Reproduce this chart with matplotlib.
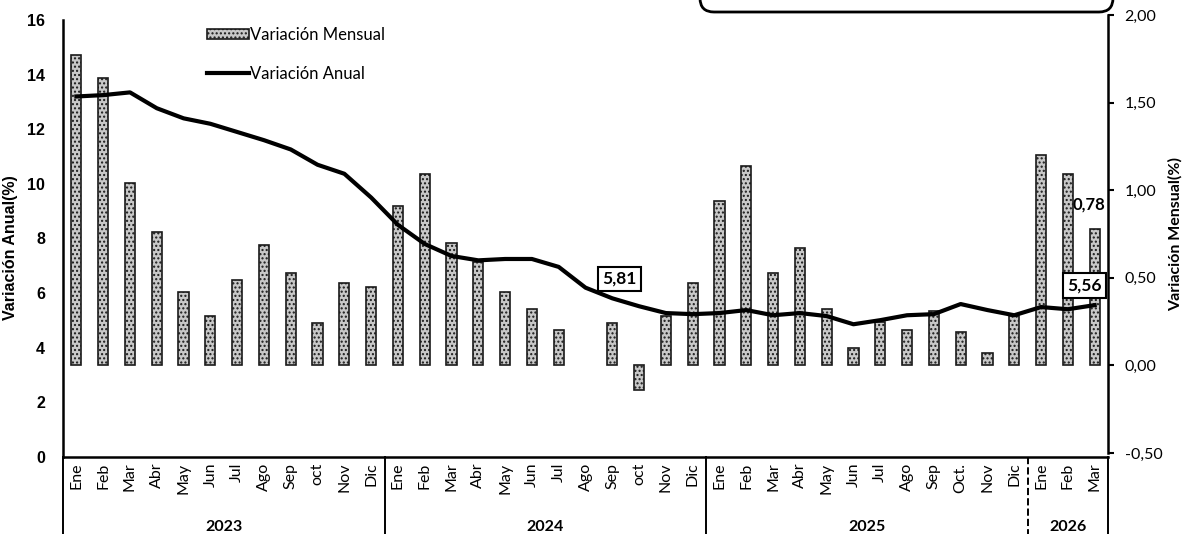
import numpy as np
import matplotlib
matplotlib.use("Agg")
import matplotlib.pyplot as plt
import matplotlib.patches as mpatches
import matplotlib.transforms as mtransforms
from matplotlib.lines import Line2D

plt.rcParams['font.family'] = ['Lato', 'DejaVu Sans']

# Data
meses = ['Ene', 'Feb', 'Mar', 'Abr', 'May', 'Jun', 'Jul', 'Ago', 'Sep', 'oct', 'Nov', 'Dic',
         'Ene', 'Feb', 'Mar', 'Abr', 'May', 'Jun', 'Jul', 'Ago', 'Sep', 'oct', 'Nov', 'Dic',
         'Ene', 'Feb', 'Mar', 'Abr', 'May', 'Jun', 'Jul', 'Ago', 'Sep', 'Oct.', 'Nov', 'Dic',
         'Ene', 'Feb', 'Mar']
anios = ['2023', '2024', '2025', '2026']
meses_por_anio = [12, 12, 12, 3]

variacion_mensual = [1.77, 1.64, 1.04, 0.76, 0.42, 0.28, 0.49, 0.69, 0.53, 0.24, 0.47, 0.45,
                     0.91, 1.09, 0.70, 0.59, 0.42, 0.32, 0.20, 0.00, 0.24, -0.14, 0.28, 0.47,
                     0.94, 1.14, 0.53, 0.67, 0.32, 0.10, 0.25, 0.20, 0.31, 0.19, 0.07, 0.28,
                     1.20, 1.09, 0.78]
variacion_anual = [13.2, 13.25, 13.35, 12.77, 12.4, 12.2, 11.9, 11.6, 11.26, 10.7, 10.37, 9.5,
                   8.5, 7.8, 7.36, 7.2, 7.25, 7.25, 6.96, 6.2, 5.81, 5.52, 5.27, 5.23,
                   5.27, 5.38, 5.19, 5.27, 5.16, 4.86, 5.01, 5.19, 5.23, 5.60, 5.38, 5.19,
                   5.49, 5.41, 5.56]

x = np.arange(len(meses))

fig = plt.figure(figsize=(11.85, 5.34), dpi=100)
ax = fig.add_axes([63 / 1185, 1 - 457 / 534, 1045 / 1185, 437 / 534])
# the secondary scale in the scan sits a few pixels higher than the primary one
ax2 = fig.add_axes([63 / 1185, 1 - 453 / 534, 1045 / 1185, 438 / 534], sharex=ax)
ax2.yaxis.tick_right()
ax2.yaxis.set_label_position('right')
ax2.tick_params(axis='x', bottom=False, labelbottom=False)
ax2.patch.set_visible(False)

# bars on the secondary axis (no outline for a zero month)
anchos_borde = [0 if v == 0 else 1.2 for v in variacion_mensual]
ax2.bar(x, variacion_mensual, width=0.38, facecolor='#c8c8c8', edgecolor='#1a1a1a',
        hatch='....', linewidth=anchos_borde, zorder=2)
ax2.set_ylim(-0.5, 2.0)
ticks_der = [-0.5, 0.0, 0.5, 1.0, 1.5, 2.0]
ax2.set_yticks(ticks_der)
ax2.set_yticklabels([f'{v:.2f}'.replace('.', ',') for v in ticks_der], fontsize=11.5)
ax2.tick_params(axis='y', length=4, width=1.5, pad=8)
ax2.set_ylabel('Variación Mensual(%)', fontsize=11.5, fontweight='bold', labelpad=4)

# line on the primary axis, drawn above the bars
ax.set_zorder(ax2.get_zorder() + 1)
ax.patch.set_visible(False)
ax.plot(x, variacion_anual, color='black', linewidth=3, solid_joinstyle='round', zorder=3)
ax.set_ylim(0, 16)
ax.set_yticks(range(0, 17, 2))
ax.set_yticklabels([str(v) for v in range(0, 17, 2)], fontsize=11.5, fontweight='bold',
                   family='Liberation Sans')
ax.tick_params(axis='y', length=0, pad=13)
ax.set_ylabel('Variación Anual(%)', fontsize=11.5, fontweight='bold',
              family='Liberation Sans')
ax.yaxis.set_label_coords(-0.043, 0.48)
ax.set_xlim(-0.5, len(meses) - 0.5)
ax.set_xticks(x)
ax.set_xticklabels(meses, rotation=90, fontsize=11.5)
ax.tick_params(axis='x', length=0, pad=4)

for a in (ax, ax2):
    a.spines['top'].set_visible(False)
    for lado in ('left', 'right', 'bottom'):
        a.spines[lado].set_linewidth(1.8)
ax2.spines['left'].set_visible(False)
ax.spines['right'].set_visible(False)
ax2.spines['bottom'].set_visible(False)

# year separators and labels below the axis
trans = mtransforms.blended_transform_factory(ax.transData, ax.transAxes)
bordes = np.cumsum([0] + meses_por_anio) - 0.5
for i, b in enumerate(bordes):
    ls = '--' if i == len(bordes) - 2 else '-'
    ax.plot([b, b], [0, -0.2], transform=trans, color='black', linewidth=1.4,
            linestyle=ls, clip_on=False)
for i, anio in enumerate(anios):
    centro = (bordes[i] + bordes[i + 1]) / 2
    ax.text(centro, -0.16, anio, transform=trans, ha='center', va='center',
            fontsize=11.5, fontweight='bold')

# value labels
caja_valor = dict(boxstyle='square,pad=0.25', facecolor='white', edgecolor='black', linewidth=1.5)
ax.annotate('5,81', (20, variacion_anual[20]), xytext=(5, 14), textcoords='offset points',
            ha='center', va='center', fontsize=12.5, fontweight='bold', bbox=caja_valor)
ax.annotate('5,56', (38, variacion_anual[38]), xytext=(-7, 14), textcoords='offset points',
            ha='center', va='center', fontsize=12.5, fontweight='bold', bbox=caja_valor)
ax2.annotate('0,78', (38, variacion_mensual[38]), xytext=(-4, 12), textcoords='offset points',
             ha='center', va='bottom', fontsize=12, fontweight='bold')

# legend
handles = [mpatches.Patch(facecolor='#c8c8c8', edgecolor='#1a1a1a', hatch='....', linewidth=1.2),
           Line2D([0], [0], color='black', linewidth=3)]
fig.legend(handles, ['Variación Mensual', 'Variación Anual'], loc='upper left',
           bbox_to_anchor=(192 / 1185, 1 - 12 / 534), frameon=False, fontsize=12,
           handlelength=2.5, handleheight=0.6, handletextpad=0.1, labelspacing=1.35)

# bottom of the rounded box cut off at the top of the page
caja = mpatches.FancyBboxPatch((700, 534 - 12), 413, 60,
                               boxstyle='round,pad=0,rounding_size=14',
                               facecolor='white', edgecolor='black', linewidth=2,
                               transform=mtransforms.IdentityTransform())
fig.add_artist(caja)

fig.savefig('out.png', dpi=100)
